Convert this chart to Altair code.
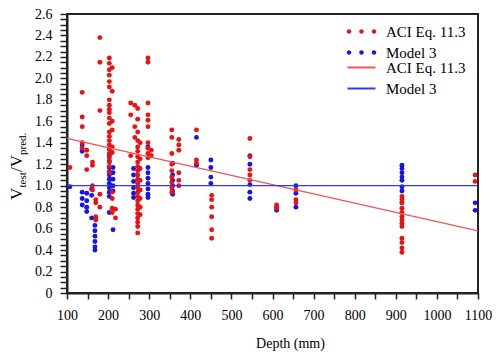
import altair as alt
import pandas as pd

SERIES = ["ACI Eq. 11.3", "Model 3"]
FIT_SERIES = ["ACI Eq. 11.3 line", "Model 3 line"]
POINT_COLORS = ["#ee1111", "#1414ee"]
LINE_COLORS = ["#ee5555", "#3535ff"]

X_TICKS = list(range(100, 1101, 50))
Y_TICKS = [round(i * 0.05, 2) for i in range(53)]

# V_test / V_pred ratios, grouped by depth (mm)
ACI = {
    107: [1.17],
    137: [1.87, 1.64, 1.55, 1.40, 1.35],
    148: [1.33, 1.28, 1.15],
    162: [1.22, 1.19, 1.00, 0.96],
    170: [0.87, 0.84, 0.71, 0.68],
    180: [2.38, 2.15, 1.70, 0.92, 0.80],
    203: [2.19, 2.14, 2.08, 2.03, 1.97, 1.92, 1.80, 1.75, 1.71, 1.68, 1.63,
          1.58, 1.50, 1.46, 1.42, 1.38, 1.34, 1.30, 1.26, 1.22, 1.18, 1.12],
    210: [2.10, 1.88, 1.60, 1.52, 1.36, 1.31, 0.94, 0.88, 0.79, 0.75],
    218: [0.78, 0.70],
    255: [1.77, 1.66, 1.28],
    265: [1.75, 1.55, 1.45],
    272: [1.72, 1.62, 1.50, 1.42, 1.36, 1.32, 1.27, 1.22, 1.18, 1.14, 1.10,
          1.06, 1.02, 0.98, 0.94, 0.90, 0.86, 0.82, 0.78, 0.74, 0.70, 0.66,
          0.62, 0.56],
    278: [1.40, 1.25, 1.16, 1.05, 0.96, 0.88, 0.80, 0.73],
    297: [2.19, 2.15, 1.77, 1.66, 1.61, 1.55, 1.40, 1.35, 1.30, 1.26],
    305: [1.33, 1.28],
    355: [1.52, 1.45, 1.30, 1.20, 1.14, 1.08, 1.03, 0.98, 0.94],
    372: [1.43, 1.38, 1.33, 1.12, 1.05, 1.00],
    415: [1.52, 1.24, 1.21],
    452: [0.91, 0.87, 0.80, 0.71, 0.59, 0.51],
    545: [1.44, 1.27, 1.15, 1.10, 1.05],
    610: [0.82, 0.79],
    657: [0.96, 0.87, 0.84],
    915: [0.90, 0.87, 0.84, 0.79, 0.75, 0.71, 0.68, 0.65, 0.62, 0.51, 0.47,
          0.42, 0.38],
    1093: [1.10, 1.04],
}

MODEL3 = {
    107: [0.99],
    137: [1.38, 1.32, 0.94, 0.88, 0.82],
    148: [0.93, 0.86, 0.80, 0.76],
    160: [0.97, 0.91, 0.70],
    168: [0.63, 0.58, 0.53, 0.48, 0.43, 0.40],
    203: [1.28, 1.23, 1.17, 1.13, 1.10, 1.06, 1.02, 0.98, 0.94, 0.90, 0.75],
    212: [1.17, 1.12, 1.06, 1.00, 0.95, 0.59],
    262: [1.16, 1.10, 1.04, 0.98, 0.93, 0.89],
    297: [1.36, 1.17, 1.12, 1.07, 1.02, 0.97, 0.92, 0.89],
    357: [1.21, 1.10, 1.05, 1.00, 0.95, 0.92],
    415: [1.45, 1.19],
    450: [1.24, 1.17, 1.08, 1.02],
    545: [1.28, 1.20, 1.01, 0.94, 0.88],
    610: [0.80, 0.77],
    657: [1.00, 0.93, 0.80],
    915: [1.19, 1.16, 1.12, 1.08, 1.05, 0.99, 0.95, 0.84],
    1093: [0.84, 0.77],
}

FIT_DEPTH = [100, 1100]
ACI_FIT = [1.44, 0.58]
MODEL3_FIT = [1.0, 1.0]

rows = []
for name, groups in ((SERIES[1], MODEL3), (SERIES[0], ACI)):
    for depth, vals in groups.items():
        for v in vals:
            rows.append({"series": name, "depth": depth, "ratio": v})
pts = pd.DataFrame(rows)

fits = pd.DataFrame({
    "fit": [FIT_SERIES[0]] * 2 + [FIT_SERIES[1]] * 2,
    "depth": FIT_DEPTH * 2,
    "ratio": ACI_FIT + MODEL3_FIT,
})

FONT = "Liberation Serif"

def dot(cx, r=0.45):
    return (f"M{cx - r},0A{r},{r},0,1,0,{cx + r},0A{r},{r},0,1,0,{cx - r},0Z")

DOTS = " ".join(dot(c) for c in (-2.5, 0, 2.5))
DASH = "M-2.8,0L2.8,0"

xenc = alt.X(
    "depth:Q",
    scale=alt.Scale(domain=[100, 1100], nice=False, zero=False),
    axis=alt.Axis(
        values=X_TICKS,
        labelExpr="datum.value % 100 === 0 ? format(datum.value, 'd') : ''",
        labelOverlap=False, labelFlush=False,
        labelFont=FONT, labelFontSize=14, titleFont=FONT, titleFontSize=14,
        tickSize=6, tickWidth=1.5, labelPadding=9,
        title="Depth (mm)", titleX=223, titleY=54,
        titleBaseline="alphabetic",
    ),
)
yenc = alt.Y(
    "ratio:Q",
    scale=alt.Scale(domain=[0, 2.6], nice=False),
    axis=alt.Axis(
        values=Y_TICKS,
        labelExpr="abs(round(datum.value * 5) - datum.value * 5) < 0.001 ? "
                  "(datum.value === 0 ? '0' : format(datum.value, '.1f')) : ''",
        labelOverlap=False, labelFlush=False,
        labelFont=FONT, labelFontSize=14,
        tickSize=7, tickWidth=1.5, labelPadding=8, title=None,
    ),
)

points = alt.Chart(pts).mark_circle(size=24, opacity=1).encode(
    x=xenc, y=yenc,
    color=alt.Color(
        "series:N",
        scale=alt.Scale(domain=SERIES, range=POINT_COLORS),
        sort=SERIES,
        legend=alt.Legend(
            title=None, orient="none", legendX=287, legendY=10,
            symbolType=DOTS, symbolSize=100, symbolStrokeWidth=0,
            symbolOpacity=1,
            labelFont=FONT, labelFontSize=15, labelColor="black",
            labelOffset=17, rowPadding=5, padding=0,
        ),
    ),
)

lines = alt.Chart(fits).mark_line(strokeWidth=1.3).encode(
    x=xenc, y=yenc,
    stroke=alt.Stroke(
        "fit:N",
        scale=alt.Scale(domain=FIT_SERIES, range=LINE_COLORS),
        sort=FIT_SERIES,
        legend=alt.Legend(
            title=None, orient="none", legendX=287, legendY=46,
            symbolType=DASH, symbolSize=100, symbolStrokeWidth=2,
            symbolFillColor="transparent",
            labelExpr="replace(datum.label, ' line', '')",
            labelFont=FONT, labelFontSize=15, labelColor="black",
            labelOffset=17, rowPadding=5, padding=0,
        ),
    ),
)

def ttl(txt, size, x, y):
    return alt.Chart(pd.DataFrame({"t": [txt]})).mark_text(
        angle=270, align="left", baseline="alphabetic",
        font=FONT, fontSize=size, color="black",
    ).encode(text="t:N", x=alt.value(x), y=alt.value(y))

title_parts = [
    ttl("V", 17, -45, 186),
    ttl("test", 11, -41, 173.5),
    ttl("/V", 17, -45, 158),
    ttl("pred.", 11, -41, 141),
]

chart = alt.layer(points, lines, *title_parts).properties(
    width=411, height=279,
    autosize=alt.AutoSizeParams(type="none"),
    padding={"left": 59, "top": 6, "right": 14, "bottom": 58},
).configure(
    font=FONT,
).configure_view(
    stroke="#222", strokeWidth=2,
).configure_axis(
    domainColor="#222", domainWidth=2, tickColor="#222", grid=False,
    labelFont=FONT, labelFontSize=14, labelColor="black",
    titleFont=FONT, titleFontSize=14, titleColor="black",
    titleFontWeight="normal",
).configure_legend(
    labelFont=FONT,
)

chart.save("out.html", embed_options={"renderer": "svg", "actions": False})
